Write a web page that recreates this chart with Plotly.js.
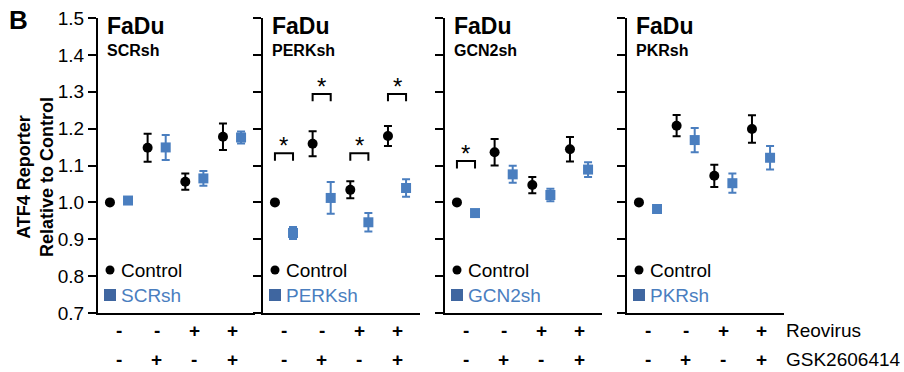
<!DOCTYPE html>
<html><head><meta charset="utf-8">
<script src="https://cdn.plot.ly/plotly-3.0.1.min.js"></script>
<style>body{margin:0;background:#fff}#c{width:904px;height:372px}</style>
</head><body><div id="c"></div>
<script>
// ---------------- data ----------------
const groups = [0, 1, 2, 3];
const cellLine = 'FaDu';
const panelNames = ['SCRsh', 'PERKsh', 'GCN2sh', 'PKRsh'];
const reovirusLabels = ['-', '-', '+', '+'];
const gskLabels = ['-', '+', '-', '+'];
const rowNames = ['Reovirus', 'GSK2606414'];
const yTicks = [0.7, 0.8, 0.9, 1.0, 1.1, 1.2, 1.3, 1.4, 1.5];

const scrControl    = [1.000, 1.148, 1.056, 1.178];
const scrControlErr = [0, 0.038, 0.022, 0.036];
const scrKd         = [1.005, 1.149, 1.065, 1.176];
const scrKdErr      = [0, 0.034, 0.020, 0.016];

const perkControl    = [1.000, 1.159, 1.034, 1.180];
const perkControlErr = [0, 0.034, 0.023, 0.027];
const perkKd         = [0.917, 1.012, 0.946, 1.039];
const perkKdErr      = [0.016, 0.043, 0.025, 0.024];

const gcn2Control    = [1.000, 1.136, 1.047, 1.144];
const gcn2ControlErr = [0, 0.036, 0.022, 0.033];
const gcn2Kd         = [0.971, 1.076, 1.020, 1.089];
const gcn2KdErr      = [0, 0.023, 0.017, 0.020];

const pkrControl    = [1.000, 1.208, 1.072, 1.199];
const pkrControlErr = [0, 0.029, 0.030, 0.037];
const pkrKd         = [0.982, 1.169, 1.052, 1.121];
const pkrKdErr      = [0, 0.033, 0.026, 0.032];

// significance brackets: [panel index, group index, bracket level]
const sigPanel = [1, 1, 1, 1, 2];
const sigGroup = [0, 1, 2, 3, 0];
const sigLevel = [1.133, 1.294, 1.133, 1.294, 1.112];

// ---------------- build ----------------
const controls = [scrControl, perkControl, gcn2Control, pkrControl];
const controlErrs = [scrControlErr, perkControlErr, gcn2ControlErr, pkrControlErr];
const kds = [scrKd, perkKd, gcn2Kd, pkrKd];
const kdErrs = [scrKdErr, perkKdErr, gcn2KdErr, pkrKdErr];

const W = 904, H = 372;
const BLUE = '#4a7ebf', LEGBLUE = '#3f66a0';
const FONT = 'Liberation Sans, Arial, Helvetica, sans-serif';
const OFF = 0.24;
const axisLeft = [98, 263, 445, 627];
const axisWidth = 157;
const yTop = 18, yBot = 313;
const px = v => v / W, py = v => 1 - v / H;

const data = [];
const layout = {
  width: W, height: H,
  margin: {l: 0, r: 0, t: 0, b: 0},
  paper_bgcolor: '#fff', plot_bgcolor: 'rgba(0,0,0,0)',
  showlegend: false,
  font: {family: FONT, color: '#000'},
  annotations: [], shapes: []
};

for (let p = 0; p < 4; p++) {
  const s = p === 0 ? '' : String(p + 1);
  const xa = 'x' + s, ya = 'y' + s;
  data.push({
    type: 'scatter', mode: 'markers', xaxis: xa, yaxis: ya,
    x: groups.map(g => g - OFF), y: controls[p],
    marker: {symbol: 'circle', size: 10, color: '#000'},
    error_y: {type: 'data', array: controlErrs[p], visible: true, color: '#000', thickness: 2, width: 4},
    hoverinfo: 'skip'
  });
  data.push({
    type: 'scatter', mode: 'markers', xaxis: xa, yaxis: ya,
    x: groups.map(g => g + OFF), y: kds[p],
    marker: {symbol: 'square', size: 10, color: BLUE},
    error_y: {type: 'data', array: kdErrs[p], visible: true, color: BLUE, thickness: 2, width: 4},
    hoverinfo: 'skip'
  });
  layout['xaxis' + s] = {
    domain: [px(axisLeft[p]), px(axisLeft[p] + axisWidth)],
    range: [-0.557, 3.61], anchor: ya,
    showline: true, linewidth: 2, linecolor: '#000',
    showgrid: false, zeroline: false, showticklabels: false, ticks: '', fixedrange: true
  };
  layout['yaxis' + s] = {
    domain: [py(yBot), py(yTop)], range: [0.7, 1.5], anchor: xa,
    showline: true, linewidth: 2, linecolor: '#000',
    ticks: 'outside', ticklen: 8, tickwidth: 2, tickcolor: '#000',
    tickvals: yTicks, ticktext: yTicks.map(v => v.toFixed(1)),
    showticklabels: p === 0, tickfont: {size: 19, family: FONT, color: '#000'},
    showgrid: false, zeroline: false, fixedrange: true
  };
  // panel titles
  layout.annotations.push({
    xref: 'paper', yref: 'paper', x: px(axisLeft[p] + 7), y: py(25.5),
    xanchor: 'left', yanchor: 'middle', showarrow: false,
    text: '<b>' + cellLine + '</b>', font: {size: 23, family: FONT, color: '#000'}
  });
  layout.annotations.push({
    xref: 'paper', yref: 'paper', x: px(axisLeft[p] + 7), y: py(50),
    xanchor: 'left', yanchor: 'middle', showarrow: false,
    text: '<b>' + panelNames[p] + '</b>', font: {size: 16, family: FONT, color: '#000'}
  });
  // legend
  const lx = axisLeft[p] + 12;
  layout.shapes.push({type: 'circle', xref: 'paper', yref: 'paper',
    x0: px(lx - 4.5), x1: px(lx + 4.5), y0: py(270 + 4.5), y1: py(270 - 4.5),
    fillcolor: '#000', line: {width: 0}});
  layout.shapes.push({type: 'rect', xref: 'paper', yref: 'paper',
    x0: px(lx - 6), x1: px(lx + 6), y0: py(295 + 6), y1: py(295 - 6),
    fillcolor: LEGBLUE, line: {width: 0}});
  layout.annotations.push({
    xref: 'paper', yref: 'paper', x: px(lx + 9), y: py(270),
    xanchor: 'left', yanchor: 'middle', showarrow: false,
    text: 'Control', font: {size: 19, family: FONT, color: '#000'}
  });
  layout.annotations.push({
    xref: 'paper', yref: 'paper', x: px(lx + 9), y: py(295),
    xanchor: 'left', yanchor: 'middle', showarrow: false,
    text: panelNames[p], font: {size: 19, family: FONT, color: BLUE}
  });
  // condition rows
  groups.forEach((g, i) => {
    layout.annotations.push({
      xref: xa, yref: 'paper', x: g, y: py(330), xanchor: 'center', yanchor: 'middle',
      showarrow: false, text: '<b>' + reovirusLabels[i] + '</b>', font: {size: 19, family: FONT, color: '#000'}
    });
    layout.annotations.push({
      xref: xa, yref: 'paper', x: g, y: py(359), xanchor: 'center', yanchor: 'middle',
      showarrow: false, text: '<b>' + gskLabels[i] + '</b>', font: {size: 19, family: FONT, color: '#000'}
    });
  });
}

// significance brackets
sigPanel.forEach((p, i) => {
  const s = p === 0 ? '' : String(p + 1);
  const g = sigGroup[i], lv = sigLevel[i];
  const x0 = g - OFF, x1 = g + OFF, leg = 0.02;
  layout.shapes.push({type: 'path', xref: 'x' + s, yref: 'y' + s,
    path: `M ${x0},${lv - leg} L ${x0},${lv} L ${x1},${lv} L ${x1},${lv - leg}`,
    line: {color: '#000', width: 2}});
  layout.annotations.push({xref: 'x' + s, yref: 'y' + s, x: g, y: lv,
    xanchor: 'center', yanchor: 'bottom', yshift: -8, showarrow: false,
    text: '*', font: {size: 24, family: FONT, color: '#000'}});
});

// row names
rowNames.forEach((t, i) => {
  layout.annotations.push({xref: 'paper', yref: 'paper', x: px(784), y: py(i === 0 ? 330 : 359),
    xanchor: 'left', yanchor: 'middle', showarrow: false, text: t,
    font: {size: 19, family: FONT, color: '#000'}});
});

// y title & panel letter
layout.annotations.push({xref: 'paper', yref: 'paper', x: px(35), y: py(177),
  xanchor: 'center', yanchor: 'middle', showarrow: false, textangle: -90,
  text: '<b>ATF4 Reporter<br>Relative to Control</b>',
  font: {size: 18, family: FONT, color: '#000'}});
layout.annotations.push({xref: 'paper', yref: 'paper', x: px(18), y: py(20),
  xanchor: 'center', yanchor: 'middle', showarrow: false,
  text: '<b>B</b>', font: {size: 26, family: FONT, color: '#000'}});

Plotly.newPlot('c', data, layout, {staticPlot: true, displayModeBar: false});
</script>
</body></html>
